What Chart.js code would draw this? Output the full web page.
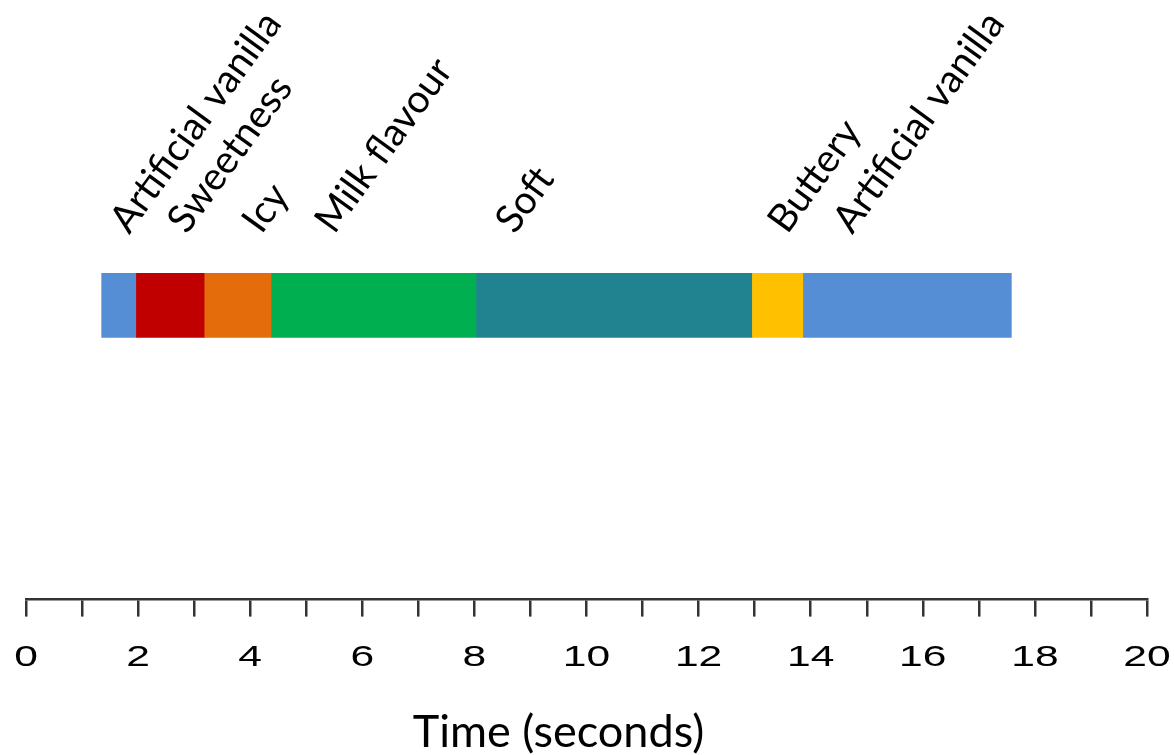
<!DOCTYPE html>
<html lang="en">
<head>
<meta charset="UTF-8">
<title>Temporal dominance timeline</title>
<script src="https://cdn.jsdelivr.net/npm/chart.js@4.4.1/dist/chart.umd.min.js"></script>
<style>
	html, body { margin: 0; padding: 0; background: #fff; }
</style>
</head>
<body>
	<canvas id="mainChart" width="1174" height="755"></canvas>

	<script>
		// dominant attribute per time span (seconds)
		const attributes = ["Artificial vanilla", "Sweetness", "Icy", "Milk flavour", "Soft", "Buttery", "Artificial vanilla"]
		const segStart = [1.35, 1.97, 3.19, 4.38, 8.04, 12.96, 13.87]
		const segEnd = [1.97, 3.19, 4.38, 8.04, 12.96, 13.87, 17.58]
		const segColors = ["#558ED5", "#C00000", "#E46C0A", "#00B050", "#21838F", "#FFC000", "#558ED5"]
		// where each attribute name sits on the time axis
		const labelAt = [1.84, 2.87, 4.2, 5.5, 8.72, 13.58, 14.74]
		const axisMin = 0
		const axisMax = 20
		const axisTitle = "Time (seconds)"

		const textPlugin = {
			id: "timelineText",
			afterDraw(chart) {
				const c = chart.ctx
				const x = chart.scales.x
				const bar = chart.getDatasetMeta(0).data[0]
				const barTop = bar.y - bar.height / 2

				c.save()
				c.fillStyle = "#000"
				c.font = "39px Lato"
				c.textAlign = "left"
				c.textBaseline = "alphabetic"
				attributes.forEach((name, i) => {
					c.save()
					c.translate(x.getPixelForValue(labelAt[i]), barTop - 38)
					c.rotate(-54 * Math.PI / 180)
					c.fillText(name, 0, 0)
					c.restore()
				})

				// tick labels are stretched wide in the original export
				c.font = "30px 'Liberation Sans'"
				c.fillStyle = "#000"
				c.textAlign = "center"
				x.ticks.forEach(t => {
					if(t.value % 2 !== 0) return
					c.save()
					c.translate(x.getPixelForValue(t.value), x.top + 66)
					c.scale(1.42, 1)
					c.fillText(String(t.value), 0, 0)
					c.restore()
				})

				c.font = "45px Lato"
				c.fillStyle = "#000"
				c.fillText(axisTitle, (x.left + x.right) / 2 - 28, 747)
				c.restore()
			}
		}

		const ctx = document.getElementById("mainChart")
		new Chart(ctx, {
			type: "bar",
			data: {
				labels: ["profile"],
				datasets: [{
					data: segStart.map((s, i) => ({x: [s, segEnd[i]], y: "profile"})),
					backgroundColor: segColors,
					borderWidth: 0,
					barThickness: 64
				}]
			},
			options: {
				indexAxis: "y",
				responsive: false,
				animation: false,
				devicePixelRatio: 1,
				layout: {padding: {left: 26, right: 27, top: 11, bottom: 124}},
				plugins: {
					legend: {display: false},
					tooltip: {enabled: false}
				},
				scales: {
					x: {
						type: "linear",
						min: axisMin,
						max: axisMax,
						grid: {drawOnChartArea: false, drawTicks: true, tickLength: 17, color: "#333", lineWidth: 2.5},
						border: {display: true, color: "#333", width: 2.5},
						ticks: {
							stepSize: 1,
							autoSkip: false,
							maxRotation: 0,
							padding: 0,
							color: "rgba(0,0,0,0)",
							font: {size: 12, family: "'Liberation Sans'"},
							callback: v => v % 2 === 0 ? v : ""
						}
					},
					y: {display: false}
				}
			},
			plugins: [textPlugin]
		})
	</script>
</body>
</html>
